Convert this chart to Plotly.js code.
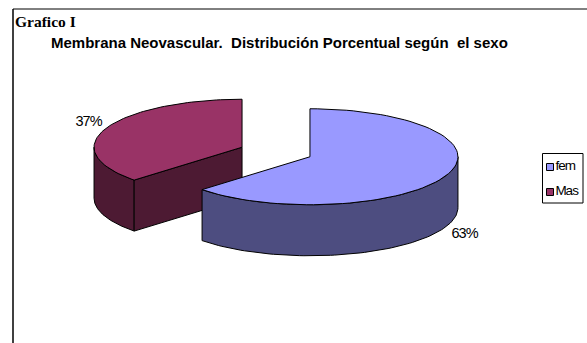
<!DOCTYPE html>
<html>
<head>
<meta charset="utf-8">
<script src="https://cdn.plot.ly/plotly-3.0.1.min.js"></script>
<style>
html,body{margin:0;padding:0;background:#fff}
#chart{width:587px;height:343px}
.annotation[data-index="2"] text,.annotation[data-index="3"] text{letter-spacing:-1px}
.textpoint text{letter-spacing:-1px}
</style>
</head>
<body>
<div id="chart"></div>
<script>
// Share of each sex
var categories = ['fem', 'Mas'];
var shares = [63, 37];
var pctLabels = ['63%', '37%'];
var topColors = ['#9999FF', '#993366'];
var sideColors = ['#4D4D80', '#4D1A33'];

// Drawing space follows the page size; the pie is a tilted disc in that space
var W = 587, H = 343;
var centre = {x: 276, y: 152};
var rx = 148, ry = 48, depth = 51, explode = 0.25;

var total = shares.reduce(function (a, b) { return a + b; }, 0);
var startFrac = [0, shares[0] / total];
var endFrac = [shares[0] / total, 1];

function apex(i) {
  var mid = 2 * Math.PI * (startFrac[i] + endFrac[i]) / 2;
  return {
    x: centre.x + explode * rx * Math.sin(mid),
    y: centre.y - explode * ry * Math.cos(mid)
  };
}
function rim(i, frac) {
  var a = apex(i), t = 2 * Math.PI * frac;
  return {x: a.x + rx * Math.sin(t), y: a.y - ry * Math.cos(t)};
}
function arc(i, f0, f1) {
  var pts = [], n = 80;
  for (var k = 0; k <= n; k++) pts.push(rim(i, f0 + (f1 - f0) * k / n));
  return pts;
}
function shifted(pts) {
  return pts.map(function (p) { return {x: p.x, y: p.y + depth}; }).reverse();
}
function face(pts, color) {
  var closed = pts.concat([pts[0]]);
  return {
    type: 'scatter', mode: 'lines', fill: 'toself', fillcolor: color,
    x: closed.map(function (p) { return p.x; }),
    y: closed.map(function (p) { return p.y; }),
    line: {color: '#000', width: 1},
    hoverinfo: 'skip', showlegend: false
  };
}

// Second slice sits behind the first: outer wall, cut wall, then the top
var a1 = apex(1);
var corner1 = rim(1, startFrac[1]);
var outer1 = arc(1, startFrac[1], 0.75);
var cut1 = [a1, corner1];
var traces = [
  face(outer1.concat(shifted(outer1)), sideColors[1]),
  face(cut1.concat(shifted(cut1)), sideColors[1]),
  face([a1].concat(arc(1, startFrac[1], endFrac[1])), topColors[1])
];

// First slice in front
var outer0 = arc(0, 0.25, endFrac[0]);
traces.push(face(outer0.concat(shifted(outer0)), sideColors[0]));
traces.push(face([apex(0)].concat(arc(0, startFrac[0], endFrac[0])), topColors[0]));

// Key entries on the right
var keyY = [167, 192];
traces.push({
  type: 'scatter', mode: 'markers+text',
  x: [550, 550], y: keyY,
  marker: {symbol: 'square', size: 7, color: topColors, line: {color: '#000', width: 1}},
  text: categories, textposition: 'middle right',
  textfont: {family: 'Liberation Sans', size: 13.5, color: '#000'},
  hoverinfo: 'skip', showlegend: false
});

var layout = {
  width: W, height: H,
  margin: {l: 0, r: 0, t: 0, b: 0},
  paper_bgcolor: '#fff', plot_bgcolor: '#fff',
  showlegend: false,
  xaxis: {range: [0, W], visible: false, fixedrange: true},
  yaxis: {range: [H, 0], visible: false, fixedrange: true},
  shapes: [
    {type: 'line', xref: 'x', yref: 'y', x0: 13, x1: 13, y0: 9, y1: 343, line: {color: '#000', width: 1.5}},
    {type: 'line', xref: 'x', yref: 'y', x0: 13, x1: 587, y0: 9, y1: 9, line: {color: '#000', width: 1}},
    {type: 'rect', xref: 'x', yref: 'y', x0: 542.5, x1: 583, y0: 153.5, y1: 203, line: {color: '#000', width: 1}, fillcolor: 'rgba(0,0,0,0)', layer: 'below'}
  ],
  annotations: [
    {x: 13, y: 21, xref: 'x', yref: 'y', xanchor: 'left', yanchor: 'middle', showarrow: false,
     text: '<b>Grafico I</b>', font: {family: 'Liberation Serif', size: 15.5, color: '#000'}},
    {x: 279, y: 42, xref: 'x', yref: 'y', xanchor: 'center', yanchor: 'middle', showarrow: false,
     text: '<b>Membrana Neovascular.  Distribución Porcentual según  el sexo</b>',
     font: {family: 'Liberation Sans', size: 15, color: '#000'}},
    {x: 88.5, y: 121, xref: 'x', yref: 'y', xanchor: 'center', yanchor: 'middle', showarrow: false,
     text: pctLabels[1], font: {family: 'Liberation Sans', size: 14.5, color: '#000'}},
    {x: 464.5, y: 232.5, xref: 'x', yref: 'y', xanchor: 'center', yanchor: 'middle', showarrow: false,
     text: pctLabels[0], font: {family: 'Liberation Sans', size: 14.5, color: '#000'}}
  ]
};

Plotly.newPlot('chart', traces, layout, {displayModeBar: false, staticPlot: true});
</script>
</body>
</html>
